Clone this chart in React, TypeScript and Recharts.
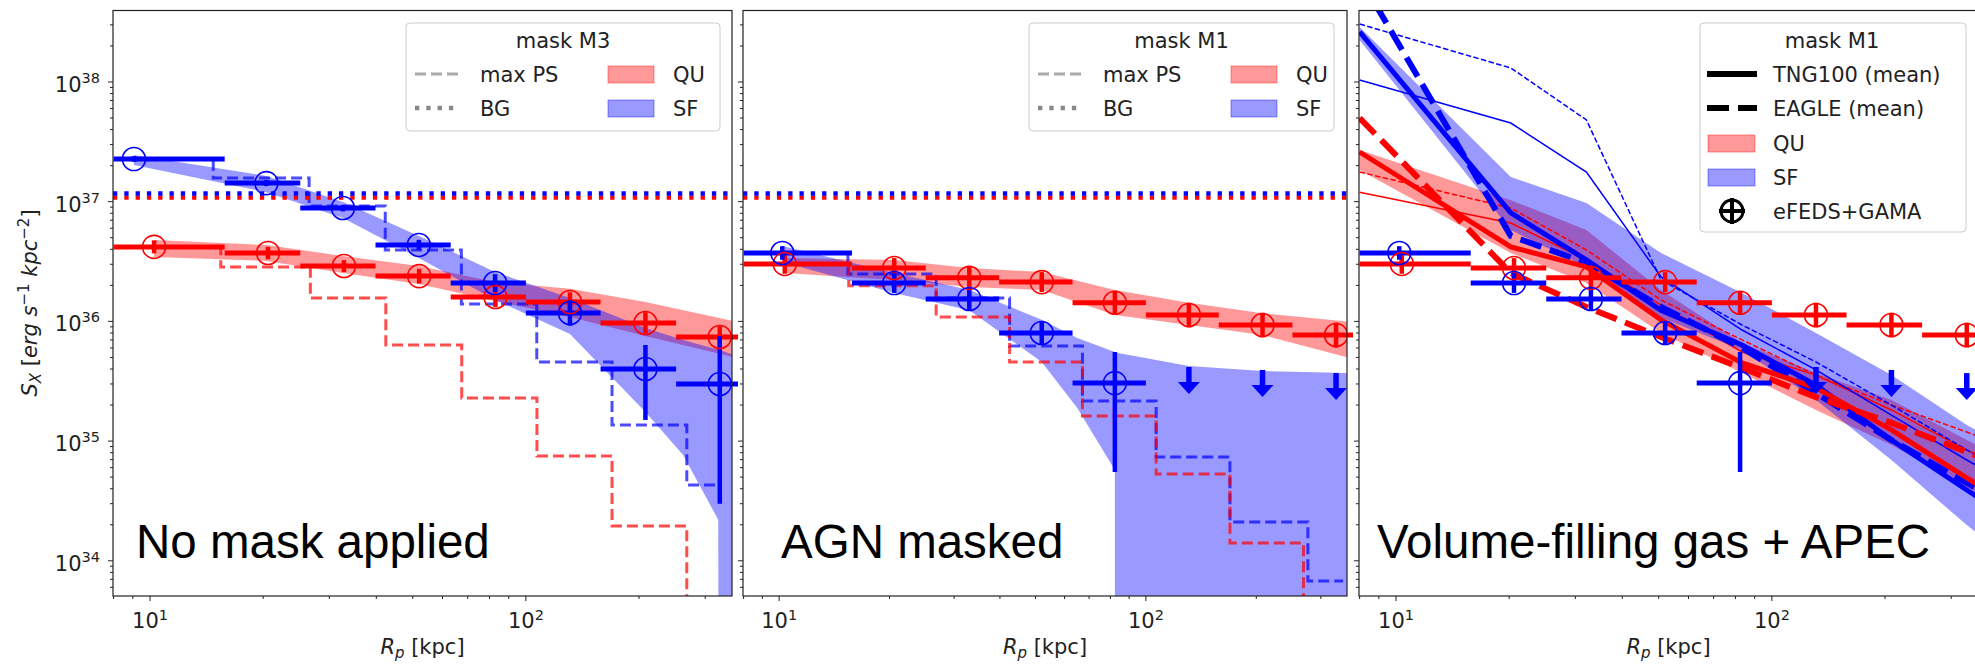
import React from 'react';
import {
  ComposedChart,
  XAxis,
  YAxis,
  Line,
  Area,
  Scatter,
  ErrorBar,
  ReferenceLine,
} from 'recharts';

const FONT = 'DejaVu Sans, sans-serif';
const BIG_FONT = 'Liberation Sans, Arial, sans-serif';
const BLUE = '#0000ff';
const RED = '#ff0000';
const INK = '#222';

// shared log axes
const X_DOMAIN = [7.97, 353.5];
const Y_DOMAIN = [5.08e33, 3.955e38];
const X_TICKS = [8, 9, 10, 20, 30, 40, 50, 60, 70, 80, 90, 100, 200, 300];
const Y_DECADES = [33, 34, 35, 36, 37, 38];
const MANTISSAS = [1, 2, 3, 4, 5, 6, 7, 8, 9];
const Y_TICKS = Y_DECADES.flatMap((d) => MANTISSAS.map((m) => m * 10 ** d)).filter(
  (v) => v >= Y_DOMAIN[0] && v <= Y_DOMAIN[1]
);

// radial bin edges of the stacked profiles [kpc]
const BIN_EDGES = [8, 15.8, 25.1, 39.8, 63.1, 100, 158, 251, 398];

// background level
const BG_SF = 1.17e37;
const BG_QU = 1.08e37;

// ---- no mask applied (M3) ----
const M3_SF_X = [9.06, 20.4, 32.6, 51.9, 82.8, 131, 208, 328];
const M3_SF_Y = [2.27e37, 1.43e37, 8.85e36, 4.35e36, 2.09e36, 1.175e36, 4.0e35, 3.0e35];
const M3_SF_LO = [2.15e37, 1.35e37, 8.3e36, 3.95e36, 1.76e36, 9.2e35, 1.5e35, 3.0e34];
const M3_SF_HI = [2.4e37, 1.52e37, 9.4e36, 4.8e36, 2.48e36, 1.5e36, 6.35e35, 7.5e35];
const M3_QU_X = [10.25, 20.6, 32.8, 52, 83, 131, 208, 328];
const M3_QU_Y = [4.19e36, 3.73e36, 2.9e36, 2.39e36, 1.6e36, 1.45e36, 9.7e35, 7.4e35];
const M3_QU_LO = [3.7e36, 3.3e36, 2.58e36, 2.07e36, 1.32e36, 1.2e36, 7.9e35, 6.0e35];
const M3_QU_HI = [4.75e36, 4.2e36, 3.25e36, 2.75e36, 1.94e36, 1.75e36, 1.19e36, 9.1e35];
const M3_SF_PS = [2.27e37, 1.58e37, 9.2e36, 3.95e36, 1.4e36, 4.58e35, 1.36e35, 4.3e34];
const M3_QU_PS = [4.19e36, 2.85e36, 1.57e36, 6.35e35, 2.29e35, 7.5e34, 1.95e34, 2e33];

const M3_SF_BAND_X = [9.06, 20.4, 32.6, 51.9, 82.8, 131, 208, 262, 325, 328, 360];
const M3_SF_BAND_LO = [2.03e37, 1.2e37, 7.3e36, 3.39e36, 1.51e36, 7.85e35, 1.75e35, 7.66e34, 2.2e34, 1e25, 1e25];
const M3_SF_BAND_HI = [2.45e37, 1.64e37, 9.95e36, 5.16e36, 2.59e36, 1.57e36, 8.8e35, 7.0e35, 5.8e35, 5.77e35, 5.2e35];
const M3_QU_BAND_X = [10.25, 20.4, 32.6, 51.9, 82.8, 131, 208, 360];
const M3_QU_BAND_LO = [3.45e36, 3.2e36, 2.54e36, 2.05e36, 1.48e36, 1.09e36, 7.55e35, 5.0e35];
const M3_QU_BAND_HI = [4.79e36, 4.35e36, 3.52e36, 2.9e36, 2.13e36, 1.87e36, 1.45e36, 1.0e36];

// ---- AGN masked (M1) ----
const M1_SF_X = [10.2, 20.6, 33, 52, 82.3];
const M1_SF_Y = [3.73e36, 2.09e36, 1.54e36, 8.0e35, 3.05e35];
const M1_SF_LO = [3.27e36, 1.73e36, 1.24e36, 6.45e35, 5.52e34];
const M1_SF_HI = [4.25e36, 2.53e36, 1.91e36, 9.9e35, 5.55e35];
const M1_SF_UL_X = [131, 208, 330];
const M1_SF_UL_Y = [4.16e35, 3.93e35, 3.7e35];
const M1_QU_X = [10.36, 20.6, 33, 52, 82.3, 131, 208, 330];
const M1_QU_Y = [3.02e36, 2.79e36, 2.31e36, 2.13e36, 1.43e36, 1.13e36, 9.33e35, 7.69e35];
const M1_QU_LO = [2.5e36, 2.3e36, 1.86e36, 1.76e36, 1.15e36, 8.9e35, 7.35e35, 6.05e35];
const M1_QU_HI = [3.65e36, 3.38e36, 2.86e36, 2.58e36, 1.77e36, 1.43e36, 1.18e36, 9.75e35];
const M1_PS_X = [10.2, 20.6, 33, 52, 82.3, 131, 208, 345];
const M1_SF_PS = [3.73e36, 2.49e36, 1.57e36, 6.22e35, 2.16e35, 7.36e34, 2.11e34, 6.78e33];
const M1_QU_PS = [3.02e36, 1.98e36, 1.09e36, 4.58e35, 1.62e35, 5.31e34, 1.41e34, 2e33];

const M1_SF_BAND_X = [10.2, 20.6, 33, 52, 65, 82.3, 82.5, 131, 208, 360];
const M1_SF_BAND_LO = [3.13e36, 1.73e36, 1.24e36, 4.58e35, 1.89e35, 5.73e34, 1e25, 1e25, 1e25, 1e25];
const M1_SF_BAND_HI = [4.27e36, 2.54e36, 1.83e36, 1.03e36, 7.26e35, 5.55e35, 5.5e35, 4.24e35, 3.85e35, 3.7e35];
const M1_QU_BAND_X = [10.36, 20.6, 33, 52, 82.3, 131, 208, 360];
const M1_QU_BAND_LO = [2.54e36, 2.22e36, 1.94e36, 1.83e36, 1.13e36, 9.33e35, 7.69e35, 4.94e35];
const M1_QU_BAND_HI = [3.39e36, 3.26e36, 2.79e36, 2.59e36, 1.83e36, 1.43e36, 1.17e36, 9.9e35];

// ---- simulations, volume-filling gas + APEC ----
const SIM_X = [8, 20.2, 32.1, 50.7, 83.3, 131, 208, 330, 420];
const TNG_SF = [2.62e38, 8.05e36, 3.26e36, 1.24e36, 6.35e35, 2.94e35, 1.02e35, 3.9e34, 2.4e34];
const EAGLE_SF = [7.5e38, 5.17e36, 3.08e36, 1.32e36, 6.0e35, 2.52e35, 1.02e35, 4.47e34, 3.0e34];
const TNG_SF_ALT = [1.04e38, 4.54e37, 1.77e37, 2.35e36, 8.47e35, 3.93e35, 1.65e35, 6.95e34, 4.5e34];
const EAGLE_SF_ALT = [3.05e38, 1.31e38, 4.82e37, 2.22e36, 9.33e35, 4.58e35, 2.0e35, 8.43e34, 5.5e34];
const TNG_QU = [2.6e37, 4.19e36, 2.85e36, 1.03e36, 4.5e35, 2.78e35, 1.24e35, 4.92e34, 3.1e34];
const EAGLE_QU = [5.0e37, 2.54e36, 1.32e36, 7.41e35, 4.08e35, 2.33e35, 1.42e35, 8.11e34, 6.2e34];
const TNG_QU_ALT = [1.2e37, 6.64e36, 3.26e36, 1.37e36, 5.55e35, 3.56e35, 1.82e35, 8.4e34, 6.0e34];
const EAGLE_QU_ALT = [1.77e37, 8.85e36, 3.95e36, 1.51e36, 7.0e35, 3.56e35, 2.0e35, 1.19e35, 9.0e34];
const SIM_SF_LO = [2.24e38, 5.8e36, 2.85e36, 1.07e36, 5.77e35, 2.2e35, 6.95e34, 1.99e34, 1.1e34];
const SIM_SF_HI = [2.88e38, 1.61e37, 9.75e36, 3.73e36, 1.73e36, 8.0e35, 3.56e35, 1.36e35, 9.0e34];
const SIM_QU_LO = [1.84e37, 3.73e36, 2.09e36, 8.0e35, 3.7e35, 1.82e35, 9.27e34, 4.13e34, 2.8e34];
const SIM_QU_HI = [2.7e37, 1.03e37, 5.8e36, 1.83e36, 6.6e35, 3.7e35, 2.2e35, 1.02e35, 7.0e34];

// plot-area boxes of the three panels
const PANELS = [
  { left: 113, width: 619 },
  { left: 743, width: 604 },
  { left: 1359, width: 619 },
];
const PLOT_TOP = 10.5;
const PLOT_H = 585.5;

const obs = (xs: number[], ys: number[], lo: number[], hi: number[]) =>
  xs.map((x, i) => ({
    x,
    y: ys[i],
    ex: [x - BIN_EDGES[i], BIN_EDGES[i + 1] - x],
    ey: [ys[i] - lo[i], hi[i] - ys[i]],
  }));

const curve = (xs: number[], ys: number[]) => xs.map((x, i) => ({ x, y: ys[i] }));

const band = (xs: number[], lo: number[], hi: number[]) =>
  xs.map((x, i) => ({ x, band: [lo[i], hi[i]] }));

// matplotlib-style 'steps-mid'
const stepsMid = (xs: number[], ys: number[]) => {
  const pts = [{ x: xs[0], y: ys[0] }];
  for (let i = 1; i < xs.length; i++) {
    const m = (xs[i - 1] + xs[i]) / 2;
    pts.push({ x: m, y: ys[i - 1] }, { x: m, y: ys[i] });
  }
  pts.push({ x: xs[xs.length - 1], y: ys[ys.length - 1] });
  return pts;
};

const isDecade = (v: number) => Math.abs(Math.log10(v) - Math.round(Math.log10(v))) < 1e-6;

function XTick({ x, y, payload }: any) {
  const v = payload.value;
  const major = isDecade(v);
  return (
    <g>
      <line x1={x} x2={x} y1={y} y2={y + (major ? 5 : 3)} stroke={INK} strokeWidth={1} />
      {major && (
        <text x={x} y={y + 32} textAnchor="middle" fontFamily={FONT} fontSize={21} fill={INK}>
          10<tspan dy={-8} fontSize={14.5}>{Math.round(Math.log10(v))}</tspan>
        </text>
      )}
    </g>
  );
}

function YTick({ x, y, payload, labels }: any) {
  const v = payload.value;
  const major = isDecade(v);
  return (
    <g>
      <line x1={x} x2={x - (major ? 5 : 3)} y1={y} y2={y} stroke={INK} strokeWidth={1} />
      {major && labels && (
        <text x={x - 13} y={y + 10} textAnchor="end" fontFamily={FONT} fontSize={21} fill={INK}>
          10<tspan dy={-9} fontSize={14.5}>{Math.round(Math.log10(v))}</tspan>
        </text>
      )}
    </g>
  );
}

// upper limit: stem plus arrow head pointing down
const ArrowDown = (p: any) => (
  <g>
    <line x1={p.cx} x2={p.cx} y1={p.cy} y2={p.cy + 17} stroke={BLUE} strokeWidth={5.5} />
    <polygon points={`${p.cx - 11},${p.cy + 15} ${p.cx + 11},${p.cy + 15} ${p.cx},${p.cy + 27}`} fill={BLUE} />
  </g>
);

function obsSeries(id: string, pts: any[], color: string) {
  return (
    <Scatter
      key={id}
      data={pts}
      dataKey="y"
      isAnimationActive={false}
      shape={(p: any) => (
        <circle cx={p.cx} cy={p.cy} r={11.5} fill="none" stroke={color} strokeWidth={1.6} />
      )}
    >
      <ErrorBar dataKey="ex" direction="x" width={0} stroke={color} strokeWidth={5} />
      <ErrorBar dataKey="ey" direction="y" width={0} stroke={color} strokeWidth={4.5} />
    </Scatter>
  );
}

function bandSeries(id: string, data: any[], color: string) {
  return (
    <Area
      key={id}
      data={data}
      dataKey="band"
      type="linear"
      stroke="none"
      fill={color}
      fillOpacity={0.4}
      isAnimationActive={false}
      activeDot={false}
    />
  );
}

function lineSeries(id: string, data: any[], color: string, width: number, dash?: string, opacity = 1) {
  return (
    <Line
      key={id}
      data={data}
      dataKey="y"
      type="linear"
      stroke={color}
      strokeOpacity={opacity}
      strokeWidth={width}
      strokeDasharray={dash}
      dot={false}
      activeDot={false}
      isAnimationActive={false}
    />
  );
}

function Panel({ index, labels, children }: { index: number; labels: boolean; children: React.ReactNode }) {
  const { left, width } = PANELS[index];
  return (
    <div style={{ position: 'absolute', left: left - 60, top: 0 }}>
      <ComposedChart
        width={width + 66}
        height={667}
        margin={{ top: PLOT_TOP, right: 6, bottom: 31, left: 0 }}
      >
        <XAxis
          type="number"
          dataKey="x"
          scale="log"
          domain={X_DOMAIN}
          allowDataOverflow
          ticks={X_TICKS}
          interval={0}
          axisLine={false}
          tickLine={false}
          tickSize={0}
          tickMargin={0}
          height={40}
          tick={(p: any) => <XTick {...p} />}
        />
        <YAxis
          type="number"
          scale="log"
          domain={Y_DOMAIN}
          allowDataOverflow
          ticks={Y_TICKS}
          interval={0}
          axisLine={false}
          tickLine={false}
          tickSize={0}
          tickMargin={0}
          width={60}
          tick={(p: any) => <YTick {...p} labels={labels} />}
        />
        {children}
      </ComposedChart>
    </div>
  );
}

const PS_DASH = '11 5';
const BG_DOT = '4.3 7';

function MaskLegend({ x, w, title }: { x: number; w: number; title: string }) {
  const hx = x + 9;
  const px = x + 202;
  return (
    <g fontFamily={FONT} fontSize={21} fill={INK}>
      <rect x={x} y={23} width={w} height={108} rx={4} fill="#fff" fillOpacity={0.8} stroke="#ccc" />
      <text x={x + w / 2} y={48} textAnchor="middle">{title}</text>
      <line x1={hx} x2={hx + 45} y1={74} y2={74} stroke="#aaa" strokeWidth={3} strokeDasharray={PS_DASH} />
      <text x={x + 74} y={82}>max PS</text>
      <line x1={hx} x2={hx + 45} y1={108} y2={108} stroke="#888" strokeWidth={4.3} strokeDasharray={BG_DOT} />
      <text x={x + 74} y={116}>BG</text>
      <rect x={px} y={66} width={46} height={17} fill={RED} fillOpacity={0.4} stroke={RED} strokeOpacity={0.4} />
      <text x={px + 65} y={82}>QU</text>
      <rect x={px} y={100} width={46} height={17} fill={BLUE} fillOpacity={0.4} stroke={BLUE} strokeOpacity={0.4} />
      <text x={px + 65} y={116}>SF</text>
    </g>
  );
}

function SimLegend() {
  const x = 1700;
  const hx = 1707;
  const tx = 1773;
  return (
    <g fontFamily={FONT} fontSize={21} fill={INK}>
      <rect x={x} y={23} width={266} height={209} rx={4} fill="#fff" fillOpacity={0.8} stroke="#ccc" />
      <text x={1832} y={48} textAnchor="middle">mask M1</text>
      <line x1={hx} x2={hx + 50} y1={74} y2={74} stroke="#000" strokeWidth={6} />
      <text x={tx} y={82}>TNG100 (mean)</text>
      <line x1={hx} x2={hx + 50} y1={108} y2={108} stroke="#000" strokeWidth={6} strokeDasharray="22 9" />
      <text x={tx} y={116}>EAGLE (mean)</text>
      <rect x={1708} y={135} width={47} height={17} fill={RED} fillOpacity={0.4} stroke={RED} strokeOpacity={0.4} />
      <text x={tx} y={151}>QU</text>
      <rect x={1708} y={169} width={47} height={17} fill={BLUE} fillOpacity={0.4} stroke={BLUE} strokeOpacity={0.4} />
      <text x={tx} y={185}>SF</text>
      <circle cx={1732} cy={211} r={11} fill="none" stroke="#000" strokeWidth={3} />
      <line x1={1732} x2={1732} y1={198} y2={224} stroke="#000" strokeWidth={4} />
      <line x1={1719} x2={1745} y1={211} y2={211} stroke="#000" strokeWidth={4} />
      <text x={tx} y={219}>eFEDS+GAMA</text>
    </g>
  );
}

function Overlay() {
  const labelY = 654;
  return (
    <svg
      width={1975}
      height={667}
      style={{ position: 'absolute', left: 0, top: 0, pointerEvents: 'none' }}
    >
      {PANELS.map((p, i) => (
        <rect key={i} x={p.left} y={PLOT_TOP} width={p.width} height={PLOT_H} fill="none" stroke={INK} strokeWidth={1.2} />
      ))}
      <MaskLegend x={406} w={314} title="mask M3" />
      <MaskLegend x={1029} w={305} title="mask M1" />
      <SimLegend />
      <g fontFamily={BIG_FONT} fontSize={47.5} fill="#000">
        <text x={136} y={558}>No mask applied</text>
        <text x={781} y={558}>AGN masked</text>
        <text x={1377} y={558}>Volume-filling gas + APEC</text>
      </g>
      {PANELS.map((p, i) => (
        <text key={i} x={p.left + p.width / 2} y={labelY} textAnchor="middle" fontFamily={FONT} fontSize={21} fill={INK}>
          <tspan fontStyle="italic">R</tspan>
          <tspan fontStyle="italic" fontSize={15} dy={4}>p</tspan>
          <tspan dy={-4}>{' [kpc]'}</tspan>
        </text>
      ))}
      <text
        transform="translate(37,303) rotate(-90)"
        textAnchor="middle"
        fontFamily={FONT}
        fontSize={21}
        fill={INK}
      >
        <tspan fontStyle="italic">S</tspan>
        <tspan fontStyle="italic" fontSize={15} dy={4}>X</tspan>
        <tspan dy={-4}>{' ['}</tspan>
        <tspan fontStyle="italic">erg</tspan>
        <tspan>{' '}</tspan>
        <tspan fontStyle="italic">s</tspan>
        <tspan fontSize={15} dy={-8}>−1</tspan>
        <tspan dy={8}>{' '}</tspan>
        <tspan fontStyle="italic">kpc</tspan>
        <tspan fontSize={15} dy={-8}>−2</tspan>
        <tspan dy={8}>]</tspan>
      </text>
    </svg>
  );
}

export default function App() {
  const m1SfObs = obs(M1_SF_X, M1_SF_Y, M1_SF_LO, M1_SF_HI);
  const m1QuObs = obs(M1_QU_X, M1_QU_Y, M1_QU_LO, M1_QU_HI);
  const m1Ul = curve(M1_SF_UL_X, M1_SF_UL_Y);

  return (
    <div
      style={{
        position: 'absolute',
        left: 0,
        top: 0,
        width: 1975,
        height: 667,
        overflow: 'hidden',
        background: '#fff',
      }}
    >
      <Panel index={0} labels>
        {bandSeries('qu-band', band(M3_QU_BAND_X, M3_QU_BAND_LO, M3_QU_BAND_HI), RED)}
        {bandSeries('sf-band', band(M3_SF_BAND_X, M3_SF_BAND_LO, M3_SF_BAND_HI), BLUE)}
        {lineSeries('qu-ps', stepsMid(M3_QU_X, M3_QU_PS), RED, 3, PS_DASH, 0.7)}
        {lineSeries('sf-ps', stepsMid(M3_SF_X, M3_SF_PS), BLUE, 3, PS_DASH, 0.7)}
        <ReferenceLine y={BG_QU} stroke={RED} strokeWidth={4.3} strokeDasharray={BG_DOT} />
        <ReferenceLine y={BG_SF} stroke={BLUE} strokeWidth={4.3} strokeDasharray={BG_DOT} />
        {obsSeries('qu-obs', obs(M3_QU_X, M3_QU_Y, M3_QU_LO, M3_QU_HI), RED)}
        {obsSeries('sf-obs', obs(M3_SF_X, M3_SF_Y, M3_SF_LO, M3_SF_HI), BLUE)}
      </Panel>

      <Panel index={1} labels={false}>
        {bandSeries('qu-band', band(M1_QU_BAND_X, M1_QU_BAND_LO, M1_QU_BAND_HI), RED)}
        {bandSeries('sf-band', band(M1_SF_BAND_X, M1_SF_BAND_LO, M1_SF_BAND_HI), BLUE)}
        {lineSeries('sf-ps', stepsMid(M1_PS_X, M1_SF_PS), BLUE, 3, PS_DASH, 0.7)}
        {lineSeries('qu-ps', stepsMid(M1_QU_X, M1_QU_PS), RED, 3, PS_DASH, 0.7)}
        <ReferenceLine y={BG_QU} stroke={RED} strokeWidth={4.3} strokeDasharray={BG_DOT} />
        <ReferenceLine y={BG_SF} stroke={BLUE} strokeWidth={4.3} strokeDasharray={BG_DOT} />
        {obsSeries('qu-obs', m1QuObs, RED)}
        {obsSeries('sf-obs', m1SfObs, BLUE)}
        <Scatter data={m1Ul} dataKey="y" shape={ArrowDown} isAnimationActive={false} />
      </Panel>

      <Panel index={2} labels={false}>
        {bandSeries('qu-band', band(SIM_X, SIM_QU_LO, SIM_QU_HI), RED)}
        {bandSeries('sf-band', band(SIM_X, SIM_SF_LO, SIM_SF_HI), BLUE)}
        {lineSeries('tng-qu-alt', curve(SIM_X, TNG_QU_ALT), RED, 1.5)}
        {lineSeries('eagle-qu-alt', curve(SIM_X, EAGLE_QU_ALT), RED, 1.5, '5.5 2.4')}
        {lineSeries('tng-sf-alt', curve(SIM_X, TNG_SF_ALT), BLUE, 1.5)}
        {lineSeries('eagle-sf-alt', curve(SIM_X, EAGLE_SF_ALT), BLUE, 1.5, '5.5 2.4')}
        {lineSeries('tng-sf', curve(SIM_X, TNG_SF), BLUE, 5)}
        {lineSeries('eagle-sf', curve(SIM_X, EAGLE_SF), BLUE, 6, '22 9')}
        {lineSeries('tng-qu', curve(SIM_X, TNG_QU), RED, 5)}
        {lineSeries('eagle-qu', curve(SIM_X, EAGLE_QU), RED, 6, '22 9')}
        {obsSeries('qu-obs', m1QuObs, RED)}
        {obsSeries('sf-obs', m1SfObs, BLUE)}
        <Scatter data={m1Ul} dataKey="y" shape={ArrowDown} isAnimationActive={false} />
      </Panel>

      <Overlay />
    </div>
  );
}
